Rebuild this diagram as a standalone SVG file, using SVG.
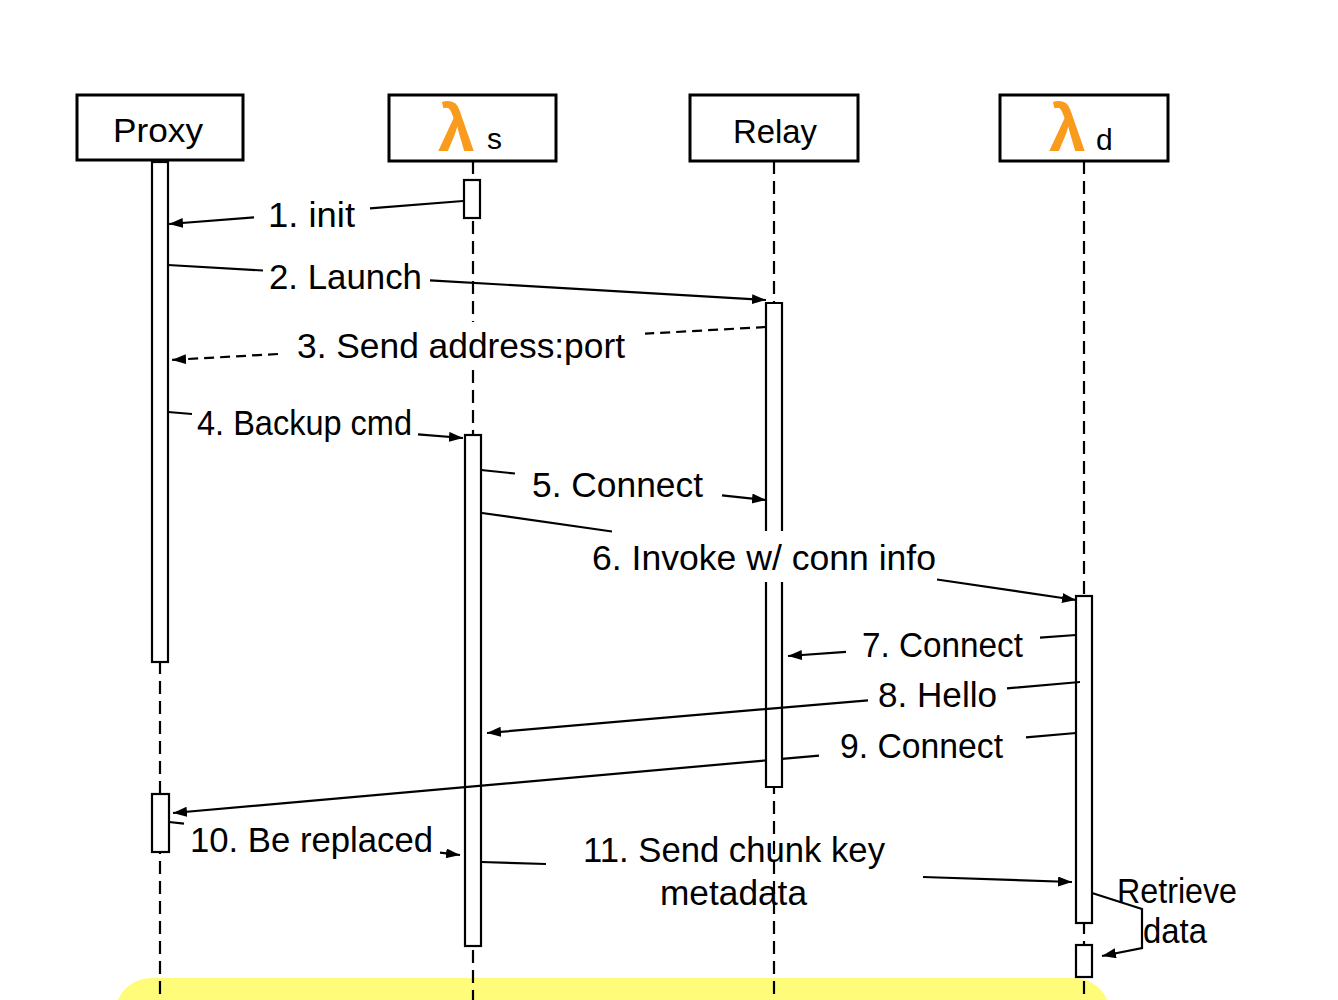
<svg xmlns="http://www.w3.org/2000/svg" width="1338" height="1000" viewBox="0 0 1338 1000">
<style>
.hdr{fill:#fff;stroke:#000;stroke-width:3}
.life{fill:none;stroke:#000;stroke-width:2.2;stroke-dasharray:13 7}
.bar{fill:#fff;stroke:#000;stroke-width:2.2}
.msg{fill:none;stroke:#000;stroke-width:2.2}
.dash{stroke-dasharray:10 6}
text{font-family:"Liberation Sans",Arial,Helvetica,sans-serif;fill:#000}
.lbl{font-size:35px}
.ht{font-size:34px}
.lam{font-weight:bold;font-size:66px;fill:#F99B1C}
</style>
<defs>
<marker id="ah" markerUnits="userSpaceOnUse" markerWidth="15" markerHeight="11" refX="14" refY="5" orient="auto">
<path d="M0,0 L14,5 L0,10 Z" fill="#000"/>
</marker>
</defs>
<rect x="0" y="0" width="1338" height="1000" fill="#fff"/>
<rect id="highlight" x="115" y="978" width="995" height="120" rx="36" ry="36" fill="#FFFC7A"/>

<g id="proxy">
<rect class="hdr" x="77" y="95" width="166" height="65"/>
<text class="ht" x="158" y="142" text-anchor="middle" textLength="90" lengthAdjust="spacingAndGlyphs">Proxy</text>
<line class="life" x1="160" y1="161" x2="160" y2="1000"/>
<rect class="bar" x="152" y="162" width="16" height="500"/>
<rect class="bar" x="152" y="794" width="17" height="58"/>
</g>

<g id="lambda-s">
<rect class="hdr" x="389" y="95" width="167" height="66"/>
<text class="lam" x="438" y="151">λ</text>
<text x="487" y="149" font-size="30">s</text>
<path class="life" d="M473,161 V322 M473,370 V1000"/>
<rect class="bar" x="464" y="180" width="16" height="38"/>
<rect class="bar" x="465" y="435" width="16" height="511"/>
</g>

<g id="relay">
<rect class="hdr" x="690" y="95" width="168" height="66"/>
<text class="ht" x="775" y="143" text-anchor="middle" textLength="84" lengthAdjust="spacingAndGlyphs">Relay</text>
<line class="life" x1="774" y1="161" x2="774" y2="1000"/>
<rect x="766" y="303" width="16" height="484" fill="#fff"/>
<path d="M766,531 V303 H782 V531 M782,582 V787 H766 V582" fill="none" stroke="#000" stroke-width="2.2"/>
</g>

<g id="lambda-d">
<rect class="hdr" x="1000" y="95" width="168" height="66"/>
<text class="lam" x="1049" y="151">λ</text>
<text x="1096" y="150" font-size="30">d</text>
<line class="life" x1="1084" y1="161" x2="1084" y2="1000"/>
<rect class="bar" x="1076" y="596" width="16" height="327"/>
<rect class="bar" x="1076" y="945" width="16" height="32"/>
</g>

<g id="connectors">
<path class="msg" marker-end="url(#ah)" d="M463,201 L370,208.3 M254,217.4 L169,224"/>
<path class="msg" marker-end="url(#ah)" d="M168,265 L263,270.5 M430,280.3 L766,300"/>
<path class="msg dash" marker-end="url(#ah)" d="M766,327 L645,333.7 M278,354 L172,359.9"/>
<path class="msg" marker-end="url(#ah)" d="M168,412 L192,414 M418,434.4 L463,438"/>
<path class="msg" marker-end="url(#ah)" d="M481,470 L515,473.5 M722,495.4 L766,500"/>
<path class="msg" marker-end="url(#ah)" d="M482,513 L612,531.5 M937,579.5 L1076,600"/>
<path class="msg" marker-end="url(#ah)" d="M1076,635 L1040,637.6 M846,651.8 L788,656"/>
<path class="msg" marker-end="url(#ah)" d="M1080,682 L1007,688.3 M868,700.3 L487,733"/>
<path class="msg" marker-end="url(#ah)" d="M1076,733 L1026,737.4 M819,755.7 L782,758.9 M766,760.4 L173,813"/>
<path class="msg" marker-end="url(#ah)" d="M169,822 L184,823.7 M440,852.7 L460,855"/>
<path class="msg" marker-end="url(#ah)" d="M481,862 L546,864 M923,877 L1072,882"/>
<path class="msg" marker-end="url(#ah)" d="M1092,893 L1142,909 L1142,948 L1102,956"/>
</g>

<g id="labels">
<text class="lbl" x="268" y="227" textLength="87" lengthAdjust="spacingAndGlyphs">1. init</text>
<text class="lbl" x="269" y="289" textLength="153" lengthAdjust="spacingAndGlyphs">2. Launch</text>
<text class="lbl" x="297" y="358" textLength="328" lengthAdjust="spacingAndGlyphs">3. Send address:port</text>
<text class="lbl" x="197" y="435" font-size="32" textLength="215" lengthAdjust="spacingAndGlyphs">4. Backup cmd</text>
<text class="lbl" x="532" y="497" textLength="171" lengthAdjust="spacingAndGlyphs">5. Connect</text>
<text class="lbl" x="592" y="570" textLength="344" lengthAdjust="spacingAndGlyphs">6. Invoke w/ conn info</text>
<text class="lbl" x="862" y="657" textLength="161" lengthAdjust="spacingAndGlyphs">7. Connect</text>
<text class="lbl" x="878" y="707" textLength="119" lengthAdjust="spacingAndGlyphs">8. Hello</text>
<text class="lbl" x="840" y="758" textLength="163" lengthAdjust="spacingAndGlyphs">9. Connect</text>
<text class="lbl" x="190" y="852" textLength="243" lengthAdjust="spacingAndGlyphs">10. Be replaced</text>
<text class="lbl" x="583" y="862" font-size="33" textLength="302" lengthAdjust="spacingAndGlyphs">11. Send chunk key</text>
<text class="lbl" x="660" y="905" font-size="33" textLength="147" lengthAdjust="spacingAndGlyphs">metadata</text>
<text class="lbl" x="1117" y="903" font-size="32" textLength="120" lengthAdjust="spacingAndGlyphs">Retrieve</text>
<text class="lbl" x="1143" y="943" font-size="32" textLength="64" lengthAdjust="spacingAndGlyphs">data</text>
</g>
</svg>
